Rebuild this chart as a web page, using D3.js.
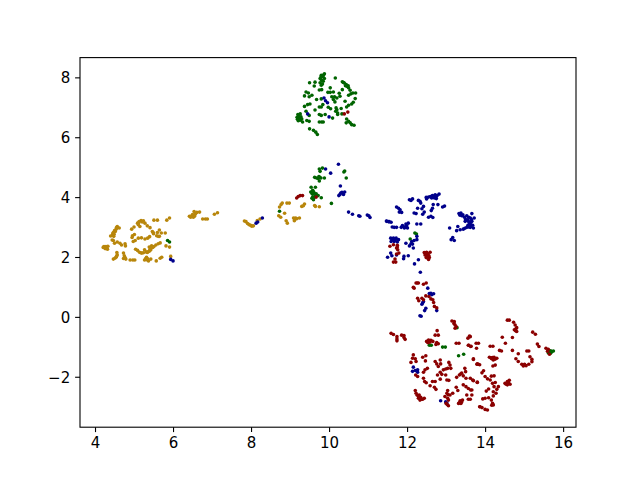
<!DOCTYPE html>
<html>
<head>
<meta charset="utf-8">
<script src="https://cdn.jsdelivr.net/npm/d3@7"></script>
<style>
  body { margin: 0; background: #fff; }
  text { font-family: "DejaVu Sans", sans-serif; }
</style>
</head>
<body>
<svg id="chart" width="640" height="480"></svg>
<script>
/* Values, one array per colour */
var goldPoints = [[4.23,2.35],[4.28,2.35],[4.33,2.36],[4.21,2.32],[4.26,2.28],[4.32,2.26],[4.25,2.31],[4.30,2.31],
  [4.57,3.02],[4.62,2.97],[4.54,2.93],[4.50,2.88],[4.47,2.82],[4.45,2.74],[4.40,2.70],[4.48,2.69],[4.44,2.57],[4.47,2.55],[4.52,2.85],[4.49,2.76],[4.46,2.79],[4.55,2.98],
  [4.50,2.46],[4.57,2.50],[4.64,2.46],[4.68,2.40],[4.77,2.44],[4.78,2.37],
  [4.56,2.15],[4.57,2.07],[4.54,1.99],[4.47,1.93],[4.51,1.96],[4.73,2.13],[4.75,2.04],[4.73,1.95],[4.79,1.93],[4.90,1.90],[4.97,1.90],[5.02,1.90],[4.55,2.02],[4.77,1.98],
  [4.94,2.93],[5.00,3.00],[5.09,3.13],[5.11,3.08],[5.15,3.02],[5.18,3.22],[5.24,3.21],[5.28,3.13],[5.34,3.04],[5.41,2.98],[5.13,3.18],[5.21,3.17],[5.12,3.14],
  [4.96,2.71],[5.01,2.75],[4.95,2.65],[4.98,2.52],[5.03,2.55],[5.11,2.63],[5.19,2.64],[5.28,2.60],[5.35,2.63],[5.40,2.68],
  [5.47,2.85],[5.50,2.78],[5.58,2.71],[5.65,2.69],[5.60,2.82],[5.65,2.90],[5.70,2.80],[5.80,2.80],[5.49,2.82],[5.62,2.69],
  [5.04,2.26],[5.09,2.22],[5.14,2.16],[5.20,2.13],[5.27,2.24],[5.31,2.17],[5.37,2.18],[5.43,2.24],[5.39,2.33],[5.45,2.37],[5.51,2.35],[5.56,2.40],[5.62,2.44],[5.67,2.47],[5.41,2.26],[5.48,2.32],[5.17,2.14],[5.24,2.14],[5.34,2.15],[5.40,2.20],[5.43,2.31],
  [5.27,1.90],[5.32,1.99],[5.32,1.91],[5.37,1.87],[5.43,1.93],[5.57,1.87],[5.67,1.96],[5.71,1.99],[5.82,2.37],[5.91,2.33],[5.30,1.95],[5.35,1.94],
  [5.51,3.23],[5.60,3.23],[5.84,3.23],[5.91,3.30],
  [6.42,3.36],[6.48,3.38],[6.54,3.52],[6.56,3.41],[6.61,3.49],[6.68,3.50],[6.52,3.33],[6.76,3.27],[6.83,3.27],[6.88,3.27],[7.06,3.43],[7.14,3.48],[5.94,2.02],[6.50,3.42],[6.58,3.45],[6.45,3.33],[6.55,3.36],
  [7.83,3.20],[7.87,3.18],[7.91,3.12],[7.97,3.07],[8.02,3.03],[8.06,3.04],[8.16,3.22],[8.23,3.27],[7.94,3.09],[8.00,3.05],
  [8.73,3.67],[8.77,3.75],[8.80,3.80],[8.92,3.80],[8.98,3.80],[8.86,3.46],[8.71,3.38],[8.76,3.33],[8.90,3.21],[8.93,3.13],
  [9.09,3.30],[9.14,3.30],[9.24,3.30],[9.11,3.21],[9.17,3.28],[9.30,3.69],[9.37,3.77],[9.34,3.71],[9.63,3.72],[9.65,3.69],[9.75,3.68],[9.12,3.25]];

var greenPoints = [[5.86,2.55],[5.91,2.50],[8.73,3.53],
  [9.54,4.33],[9.65,4.33],[9.53,4.17],[9.58,4.23],[9.62,4.14],[9.67,4.11],[9.56,3.96],[9.60,3.91],[9.62,3.99],[9.72,4.05],[9.80,3.98],[9.58,4.10],[10.06,3.79],[9.56,4.12],[9.60,4.18],[9.65,4.05],[9.58,4.00],
  [9.75,4.94],[9.77,4.86],[9.83,4.97],[9.63,4.66],[9.68,4.64],[9.74,4.69],[9.79,4.64],[9.75,4.54],[9.88,4.64],[10.38,4.84],[10.40,4.87],[10.44,4.64],[9.72,4.62],[9.76,4.66],
  [9.88,8.12],[9.80,8.07],[9.84,8.03],[9.77,7.96],[9.88,7.96],[9.81,7.90],[9.85,7.87],[9.77,7.82],[9.83,7.78],[9.80,7.74],[9.75,7.58],[9.81,7.59],[9.86,8.08],[9.79,8.00],
  [9.50,7.82],[9.64,7.84],[9.62,7.71],[10.16,7.98],[10.34,7.85],[10.39,7.81],[10.44,7.76],[10.46,7.70],[10.34,7.59],[10.50,7.65],[10.54,7.57],[10.61,7.48],[10.68,7.48],[10.56,7.45],[10.50,7.40],[10.37,7.83],[10.42,7.72],[10.49,7.72],
  [10.03,7.65],[9.97,7.50],[10.03,7.50],[10.11,7.51],[10.26,7.47],[10.28,7.37],[10.20,7.31],[10.14,7.35],[10.07,7.35],[10.11,7.26],[10.15,7.18],
  [9.41,7.51],[9.47,7.48],[9.37,7.38],[9.49,7.35],[9.56,7.40],[9.68,7.26],[9.80,7.28],[9.84,7.09],[9.37,7.03],[9.45,7.09],[9.51,7.11],[9.64,6.91],[9.75,7.01],[9.80,7.01],[9.98,7.00],
  [10.18,6.98],[10.20,6.92],[10.17,6.87],[10.22,6.81],[10.04,6.95],[10.31,6.96],[10.45,7.01],[10.50,7.07],[10.58,7.11],[10.62,7.17],[10.67,7.29],[10.41,7.20],
  [9.20,6.76],[9.26,6.78],[9.18,6.67],[9.23,6.64],[9.30,6.61],[9.26,6.57],[9.32,6.51],[9.21,6.55],[9.41,6.87],[9.49,6.53],[9.43,6.56],[9.49,6.73],[9.22,6.70],[9.28,6.68],[9.25,6.60],[9.19,6.60],
  [9.75,6.76],[9.80,6.73],[9.90,6.76],[9.75,6.51],[9.85,6.51],[9.81,6.51],[10.09,6.64],[10.22,6.76],[10.33,6.78],[10.45,6.61],[10.44,6.48],[10.50,6.53],[10.54,6.48],[10.58,6.42],[10.64,6.40],
  [9.50,6.28],[9.60,6.23],[9.66,6.17],[9.70,6.09],
  [12.08,2.60],[12.20,2.80],[12.24,2.77],[13.28,-0.36],[12.57,-0.95],[12.62,-0.95],[12.91,-1.01],[12.98,-1.01],[13.32,-1.30],[13.45,-1.25],
  [15.65,-1.16],[15.70,-1.18],[15.75,-1.14],[15.67,-1.22],[15.62,-1.20],[15.68,-1.13]];

var bluePoints = [[5.94,1.92],[6.00,1.87],[8.13,3.13],[8.17,3.17],[8.29,3.30],
  [10.24,5.10],[9.91,4.94],[10.04,4.80],[10.29,4.37],[10.25,4.05],[10.30,4.14],[10.33,4.16],[10.40,4.17],[10.37,4.09],[10.28,4.09],
  [10.50,3.50],[10.60,3.43],[10.76,3.38],[10.79,3.36],[10.98,3.40],[11.02,3.38],[11.05,3.32],[11.47,3.20],[11.53,3.18],
  [9.87,7.31],[9.91,7.22],[9.96,7.15],[9.45,6.78],[10.00,6.68],
  [12.82,4.10],[12.77,4.05],[12.72,4.08],[12.65,4.05],[12.70,3.97],[12.75,3.95],[12.63,3.97],[12.55,4.00],[12.49,3.99],[12.50,3.94],[12.68,4.02],[12.74,4.01],[12.60,4.02],
  [12.06,3.91],[12.14,3.94],[12.10,3.89],[12.29,3.89],[12.33,3.86],[12.35,3.80],[12.67,3.75],[12.79,3.75],[12.42,3.69],[12.27,3.63],[12.38,3.61],[12.65,3.63],[12.62,3.55],[12.91,3.67],[12.96,3.70],
  [11.73,3.67],[11.78,3.63],[11.82,3.58],[11.86,3.49],[11.80,3.50],[12.44,3.50],[12.40,3.43],[12.18,3.47],[12.23,3.45],[12.55,3.33],[12.61,3.36],[12.66,3.32],
  [11.48,3.19],[11.54,3.18],[11.59,3.16],[11.62,3.00],[11.67,2.99],[11.73,2.99],[11.85,2.99],[11.90,3.02],[11.97,3.10],[12.03,3.13],[11.93,2.97],[12.01,2.97],[11.99,3.04],[12.25,3.10],[12.35,3.10],[11.95,3.00],[11.88,3.05],
  [13.33,3.45],[13.38,3.47],[13.43,3.41],[13.47,3.33],[13.53,3.38],[13.66,3.45],[13.72,3.30],[13.62,3.30],[13.55,3.24],[13.49,3.19],[13.66,3.19],[13.60,3.11],[13.68,3.06],[13.62,2.99],[13.53,2.99],[13.70,2.97],[13.44,2.93],[13.36,2.91],[13.27,2.88],[13.09,2.97],[13.30,3.02],[13.17,2.65],[13.13,2.58],[13.21,2.55],
  [13.58,3.18],[13.63,3.15],[13.56,3.06],[13.64,3.06],[13.58,3.00],[13.50,3.25],[13.58,3.33],[13.65,3.25],[13.40,3.38],[13.35,3.40],[13.48,2.96],
  [11.58,2.63],[11.65,2.63],[11.72,2.63],[11.78,2.58],[11.59,2.52],[11.67,2.52],[11.75,2.50],[11.97,2.46],[12.06,2.37],[12.12,2.52],[12.14,2.43],[12.16,2.30],[12.25,2.69],[12.25,2.58],[11.62,2.58],[11.70,2.57],[12.10,2.44],[12.18,2.55],
  [11.50,1.99],[11.58,2.13],[11.61,2.04],[11.73,2.07],[11.91,1.94],[11.92,2.02],[12.03,2.04],[12.29,1.91],[12.19,1.77],[12.34,1.49],
  [12.53,0.96],[12.61,0.79],[12.68,0.77],[12.63,0.74],[12.42,0.51],[12.38,0.42],[12.48,0.29],[12.45,0.21],[12.76,0.21],[12.33,0.04],[12.57,0.78],[12.40,0.47],[12.36,0.02],
  [12.16,-1.68],[12.14,-1.82],[12.21,-1.79],[12.27,-1.77],[12.27,-1.85],[12.86,-2.80],[12.99,-2.84],[13.02,-2.88]];

var redPoints = [[9.17,3.97],[9.21,4.02],[9.26,4.05],[9.32,4.05],[9.67,4.00],[10.39,6.78],[10.48,6.84],
  [11.56,2.36],[11.65,2.41],[11.75,2.39],[11.73,2.30],[11.76,2.24],[11.79,2.13],[11.73,2.10],[11.69,1.93],[11.65,1.83],[11.71,1.83],[11.75,2.33],
  [12.44,2.15],[12.50,2.16],[12.59,2.16],[12.46,2.07],[12.52,2.04],[12.57,1.98],[12.55,1.92],[12.49,1.98],[12.48,2.11],[12.54,2.10],[12.50,2.07],[12.56,2.04],[12.46,2.14],
  [12.23,1.13],[12.29,1.13],[12.42,1.09],[12.49,1.13],[12.16,0.99],[12.27,0.62],[12.30,0.54],[12.38,0.62],[12.42,0.57],[12.48,0.70],[12.56,0.68],[12.61,0.60],[12.66,0.57],[12.68,0.48],[12.70,0.35],[12.76,0.30],[12.18,0.96],[12.26,1.13],
  [13.15,-0.14],[13.21,-0.16],[13.23,-0.27],[13.23,-0.38],[12.77,-0.46],[11.59,-0.55],[11.65,-0.59],[11.74,-0.66],[11.74,-0.74],[11.74,-0.80],[11.86,-0.61],[11.92,-0.62],[11.92,-0.69],[11.95,-0.75],[13.20,-0.22],[13.26,-0.33],
  [12.72,-0.61],[12.80,-0.61],[12.50,-0.82],[12.55,-0.77],[12.61,-0.78],[12.66,-0.82],[12.76,-0.86],[12.80,-0.90],[13.26,-0.88],[13.33,-0.88],[13.56,-0.71],[13.60,-0.64],[13.58,-0.95],[12.58,-0.85],[12.53,-0.86],[12.74,-0.92],
  [12.16,-1.27],[12.14,-1.38],[12.21,-1.40],[12.10,-1.52],[12.23,-1.49],[12.40,-1.35],[12.48,-1.30],[12.47,-1.47],[12.72,-1.49],[12.76,-1.57],[12.85,-1.44],[12.86,-1.57],[12.80,-1.66],[13.07,-1.52],[13.10,-1.61],[13.12,-1.72],[13.04,-1.72],
  [12.42,-1.85],[12.46,-1.77],[12.52,-1.72],[12.22,-1.94],[12.27,-1.99],[12.85,-1.85],[12.93,-1.77],[12.99,-1.74],[12.78,-1.94],[12.89,-1.92],[12.99,-1.94],[12.85,-2.08],[12.42,-2.05],[12.45,-2.16],[12.49,-2.20],[12.65,-2.16],[12.72,-2.16],[12.59,-2.30],[12.70,-2.35],[12.74,-2.42],
  [13.02,-2.11],[13.07,-2.12],[13.27,-2.02],[13.34,-1.94],[13.40,-1.88],[13.48,-1.72],[13.50,-1.83],[13.44,-1.97],[13.51,-2.05],[13.62,-2.05],[13.68,-2.11],[13.80,-2.18],[13.44,-2.27],[13.51,-2.33],[13.57,-2.39],[13.26,-2.35],[13.30,-2.46],[13.63,-2.44],[13.37,-1.91],
  [13.04,-2.46],[13.02,-2.55],[13.10,-2.61],[13.17,-2.55],[12.97,-2.66],[13.06,-2.78],[13.00,-2.89],[13.06,-2.97],[13.05,-2.60],[13.04,-2.72],[13.03,-2.93],
  [12.21,-2.46],[12.23,-2.55],[12.31,-2.61],[12.35,-2.69],[12.29,-2.72],[12.40,-2.75],[12.44,-2.72],[12.33,-2.78],[12.37,-2.75],[12.26,-2.62],[12.30,-2.66],
  [13.32,-2.89],[13.36,-2.80],[13.42,-2.78],[13.38,-2.89],[13.53,-2.61],[13.57,-2.75],[13.66,-2.61],[13.62,-2.75],[13.86,-3.00],[13.70,-1.42],[13.80,-1.57],[13.86,-1.60],[13.57,-0.95],[13.63,-0.99],[13.35,-2.85],[13.40,-2.84],
  [14.57,-0.11],[14.62,-0.11],[14.73,-0.18],[14.77,-0.27],[14.81,-0.36],[14.75,-0.43],[14.81,-0.49],[15.22,-0.51],[15.29,-0.58],[15.34,-0.91],[15.38,-0.99],[14.44,-0.68],[14.70,-0.69],[14.52,-0.88],[14.79,-0.40],[14.78,-0.46],
  [13.77,-0.88],[13.83,-0.88],[13.62,-0.66],[13.64,-0.98],[13.78,-1.05],[14.13,-0.98],[14.20,-0.98],[14.37,-1.12],[14.42,-1.14],[14.70,-1.12],[14.85,-1.23],[15.07,-1.14],[15.12,-1.14],[15.15,-1.33],[15.20,-1.42],[15.20,-1.50],
  [14.79,-1.40],[14.85,-1.49],[14.94,-1.58],[14.98,-1.64],[15.05,-1.63],[15.12,-1.58],[15.56,-1.05],[15.62,-1.08],[15.65,-1.25],[15.01,-1.58],[15.60,-1.15],
  [13.70,-1.40],[13.79,-1.58],[13.83,-1.58],[14.11,-1.35],[14.17,-1.40],[14.23,-1.35],[14.30,-1.38],[14.21,-1.44],[14.20,-1.64],[14.26,-1.61],[14.15,-1.37],[14.26,-1.41],[14.19,-1.36],
  [13.92,-1.87],[13.96,-1.80],[14.00,-1.99],[14.06,-2.07],[14.16,-1.98],[14.23,-1.97],[14.13,-2.11],[13.70,-2.13],[13.80,-2.19],[14.19,-2.22],[14.26,-2.19],[14.23,-2.33],[14.34,-2.33],[14.09,-2.41],[14.03,-2.48],[14.30,-2.42],[14.21,-2.50],[14.28,-2.55],
  [14.51,-2.22],[14.57,-2.16],[14.62,-2.12],[14.57,-2.27],[14.64,-2.25],[13.66,-2.44],[14.54,-2.25],[14.60,-2.20],
  [13.87,-3.00],[13.92,-3.03],[14.00,-3.09],[14.06,-3.11],[14.19,-2.89],[14.21,-2.94],[14.17,-2.95],[13.94,-2.74],[14.00,-2.72],[14.09,-2.70],[14.21,-2.64],[14.16,-2.78]];

var series = [
  { points: goldPoints, color: "#b8860b" },
  { points: greenPoints, color: "#006400" },
  { points: bluePoints, color: "#00008b" },
  { points: redPoints, color: "#8b0000" }
];
var xTicks = [4, 6, 8, 10, 12, 14, 16];
var yTicks = [-2, 0, 2, 4, 6, 8];

var svg = d3.select("#chart");

var x = d3.scaleLinear().domain([3.615, 16.33]).range([80, 576]);
var y = d3.scaleLinear().domain([-3.685, 8.66]).range([427.2, 57.6]);

/* Dots first, so the frame sits on top */
series.forEach(function(s) {
  svg.append("g").selectAll("circle")
    .data(s.points)
    .enter().append("circle")
    .attr("cx", function(d) { return x(d[0]); })
    .attr("cy", function(d) { return y(d[1]); })
    .attr("r", 1.8)
    .attr("fill", s.color);
});

var xAxis = d3.axisBottom(x).tickValues(xTicks).tickFormat(d3.format("d")).tickSize(4.9).tickPadding(4.9);
var yAxis = d3.axisLeft(y).tickValues(yTicks).tickFormat(d3.format("d")).tickSize(4.9).tickPadding(4.9);

var xGroup = svg.append("g").attr("transform", "translate(0,427.2)").call(xAxis);
var yGroup = svg.append("g").attr("transform", "translate(80,0)").call(yAxis);

svg.selectAll(".tick text").attr("font-size", 15).attr("font-family", "DejaVu Sans").attr("fill", "#000");
yGroup.selectAll(".tick text").attr("dy", "0.37em");
svg.selectAll(".tick line").attr("stroke", "#000").attr("stroke-width", 1.1);
svg.selectAll(".domain").remove();

svg.append("rect")
  .attr("x", 80).attr("y", 57.6)
  .attr("width", 496).attr("height", 369.6)
  .attr("fill", "none").attr("stroke", "#000").attr("stroke-width", 1.1);
</script>
</body>
</html>
